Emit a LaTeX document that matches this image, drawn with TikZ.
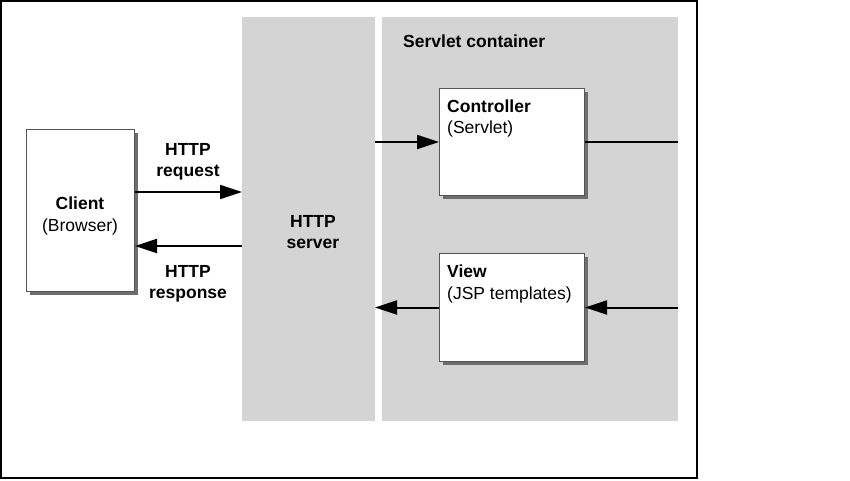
\documentclass[tikz,border=0pt]{standalone}
\usepackage{fontspec}
\setmainfont{Liberation Sans}
\usetikzlibrary{arrows.meta,shadows}
\definecolor{panel}{HTML}{D4D4D4}
\definecolor{shadowc}{HTML}{6E6E6E}
\definecolor{edgec}{HTML}{555555}
\begin{document}
\begin{tikzpicture}[x=1pt,y=-1pt,
  every node/.style={font=\fontsize{17.5}{21.5}\selectfont},
  panelbox/.style={fill=panel, draw=none, inner sep=0pt, outer sep=0pt, anchor=north west},
  compbox/.style={draw=edgec, line width=1pt, fill=white, inner sep=0pt, anchor=north west,
     drop shadow={shadow xshift=3pt, shadow yshift=-3pt, fill=shadowc, opacity=1}},
  conn/.style={line width=2pt, -{Triangle[length=22pt,width=14pt]}},
  plainline/.style={line width=2pt},
  lbl/.style={inner sep=0pt, font=\fontsize{17.5}{21.5}\selectfont\bfseries},
  txt/.style={inner sep=0pt}]
\useasboundingbox (0,0) rectangle (850,480);
\draw[line width=2pt] (1,1) rectangle (697,478);
\node[panelbox, minimum width=133pt, minimum height=404pt] (server) at (242,17) {};
\node[panelbox, minimum width=296pt, minimum height=404pt] (container) at (382,17) {};
\node[compbox, minimum width=108pt, minimum height=162pt] (client) at (26,129) {};
\node[compbox, minimum width=145pt, minimum height=107pt] (ctrl) at (439,88) {};
\node[compbox, minimum width=145pt, minimum height=108pt] (view) at (439,253) {};
% labels (base anchor = baseline of the last line)
\node[lbl, anchor=base west] (contlbl) at (403,47.5) {Servlet container};
\node[lbl, anchor=base, align=center] (serverlbl) at (313,248.5) {HTTP\\server};
\node[lbl, anchor=base, align=center] (reqlbl) at (188,176.5) {HTTP\\request};
\node[lbl, anchor=base, align=center] (resplbl) at (188,298.5) {HTTP\\response};
\node[txt, anchor=base, align=center] (clientlbl) at (80,231) {\textbf{Client}\\(Browser)};
\node[txt, anchor=base west, align=left] (ctrllbl) at (447,133.5) {\textbf{Controller}\\(Servlet)};
\node[txt, anchor=base west, align=left] (viewlbl) at (447,299) {\textbf{View}\\(JSP templates)};
% connectors
\draw[conn] (client.east |- 0,192) -- (server.west |- 0,192);
\draw[conn] (server.west |- 0,246) -- (client.east |- 0,246);
\draw[conn] (server.east |- ctrl.west) -- (ctrl.west);
\draw[plainline] (ctrl.east) -- (container.east |- ctrl.east);
\draw[conn] (view.west) -- (server.east |- view.west);
\draw[conn] (container.east |- view.east) -- (view.east);
\end{tikzpicture}
\end{document}
